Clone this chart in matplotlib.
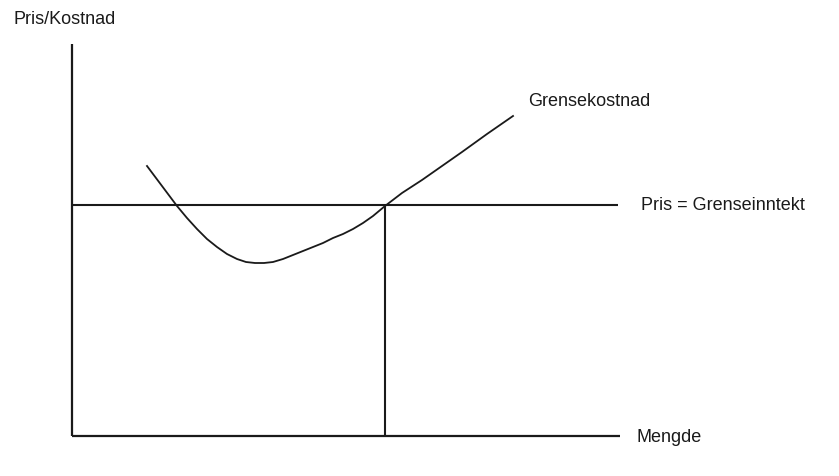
import matplotlib
matplotlib.use("Agg")
import matplotlib.pyplot as plt

# Marginal cost curve (quantity, cost) in chart units, origin at axes crossing
mc_quantity = [75, 90, 105, 115, 125, 135, 145, 155, 165, 174, 183, 192, 201, 211, 221, 231, 241, 251, 261, 271, 281, 291, 301, 313, 330, 350, 370, 390, 415, 441]
mc_cost =     [270, 250, 230, 218, 207, 197, 189, 182, 177, 174, 173, 173, 174, 177, 181, 185, 189, 193, 198, 202, 207, 213, 220, 230, 243, 256, 270, 284, 302, 320]

price_level = 231          # Pris = Grenseinntekt
optimal_quantity = 313     # where MC = price
x_axis_end = 548
y_axis_end = 392
price_line_end = 546

labels = {
    "y": "Pris/Kostnad",
    "x": "Mengde",
    "mc": "Grensekostnad",
    "price": "Pris = Grenseinntekt",
}

fig = plt.figure(figsize=(8.39, 4.77), dpi=100)
ax = fig.add_axes([0, 0, 1, 1])
# map chart units to pixels: origin at (72, 437) px in a 839x477 image
ax.set_xlim(-72, 839 - 72)
ax.set_ylim(437 - 477, 437)
ax.axis("off")

col = "#1a1a1a"
ax.plot([0, 0], [0, y_axis_end], color=col, lw=1.6, solid_capstyle="butt")
ax.plot([0, x_axis_end], [0, 0], color=col, lw=1.6, solid_capstyle="butt")
ax.plot([0, price_line_end], [price_level, price_level], color=col, lw=1.5, solid_capstyle="butt")
ax.plot([optimal_quantity, optimal_quantity], [0, price_level], color=col, lw=1.5, solid_capstyle="butt")
ax.plot(mc_quantity, mc_cost, color=col, lw=1.3)

fs = 13
fam = "Liberation Sans"
ax.text(-58, 417, labels["y"], fontsize=fs, ha="left", va="center", color=col, family=fam)
ax.text(564, -1, labels["x"], fontsize=fs, ha="left", va="center", color=col, family=fam)
ax.text(456, 335, labels["mc"], fontsize=fs, ha="left", va="center", color=col, family=fam)
ax.text(569, price_level, labels["price"], fontsize=fs, ha="left", va="center", color=col, family=fam)

fig.savefig("out.png", dpi=100, facecolor="white")
